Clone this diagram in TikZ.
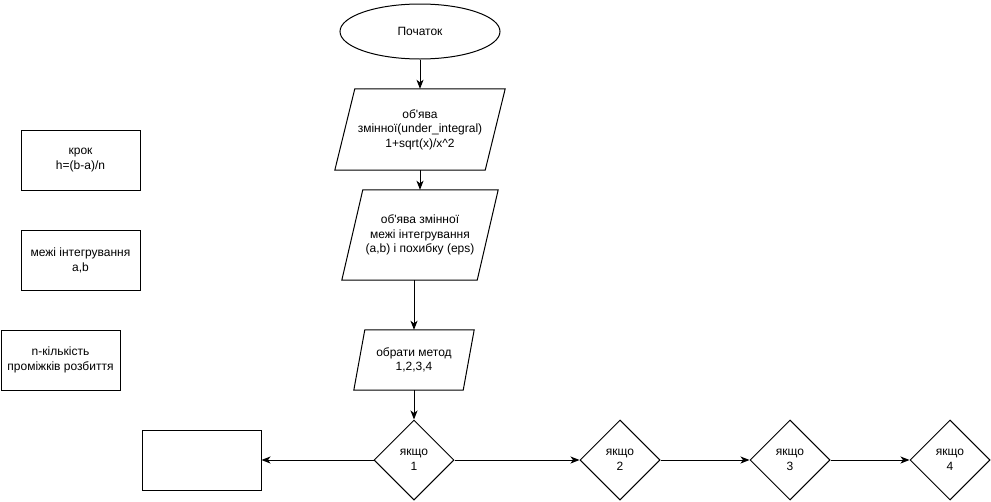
\documentclass[tikz,border=0pt]{standalone}
\usepackage{fontspec}
\setmainfont{Liberation Sans}[Ligatures=TeXOff]
\usetikzlibrary{shapes.geometric,arrows.meta,calc}
\begin{document}
\begin{tikzpicture}[x=1pt,y=-1pt,
  every node/.style={font=\fontsize{12}{14.5}\selectfont, align=center, inner sep=0pt},
  box/.style={draw, line width=1pt, minimum width=119pt, minimum height=60pt},
  dia/.style={draw, line width=1pt, diamond, minimum width=80pt, minimum height=80pt, aspect=1},
  oval/.style={draw, line width=1pt, ellipse, minimum width=160pt, minimum height=55pt},
  arr/.style={line width=1pt, -{Stealth[length=9pt,width=7pt,inset=2.5pt]}},
  shapeline/.style={draw, line width=1pt, line join=miter}
]
\useasboundingbox (0,0) rectangle (991,501);

% start
\node[oval] (start) at (420,31.5) {Початок};

% parallelograms (text nodes sized to bounding box)
\node[minimum width=170pt, minimum height=81pt] (p1) at (420,129.5) {об'ява\\змінної(under\_integral)\\1+sqrt(x)/x\^{}2};
\path[shapeline] (p1.south west) -- ($(p1.north west)+(20,0)$) -- (p1.north east) -- ($(p1.south east)+(-20,0)$) -- cycle;

\node[minimum width=156pt, minimum height=90pt] (p2) at (420,235) {об'ява змінної\\межі інтегрування\\(a,b) і похибку (eps)};
\path[shapeline] (p2.south west) -- ($(p2.north west)+(21,0)$) -- (p2.north east) -- ($(p2.south east)+(-21,0)$) -- cycle;

\node[minimum width=120pt, minimum height=60pt] (p3) at (414,360) {обрати метод\\1,2,3,4};
\path[shapeline] (p3.south west) -- ($(p3.north west)+(11,0)$) -- (p3.north east) -- ($(p3.south east)+(-11,0)$) -- cycle;

% left boxes
\node[box] (krok) at (80.5,160) {крок\\h=(b-a)/n};
\node[box] (mezhi) at (80.5,260.5) {межі інтегрування\\a,b};
\node[box] (nk) at (60.5,360) {n-кількість\\проміжків розбиття};
\node[box] (empty) at (201.5,460) {};

% decisions
\node[dia] (d1) at (414,460) {якщо\\1};
\node[dia] (d2) at (620,460) {якщо\\2};
\node[dia] (d3) at (790,460) {якщо\\3};
\node[dia] (d4) at (950,460) {якщо\\4};

% connectors
\draw[arr] (start.south) -- (p1.north);
\draw[arr] (p1.south) -- (p2.north);
\draw[arr] (p2.south -| p3.north) -- (p3.north);
\draw[arr] (p3.south) -- (d1.north);
\draw[arr] (d1.west) -- (empty.east);
\draw[arr] (d1.east) -- (d2.west);
\draw[arr] (d2.east) -- (d3.west);
\draw[arr] (d3.east) -- (d4.west);
\end{tikzpicture}
\end{document}
